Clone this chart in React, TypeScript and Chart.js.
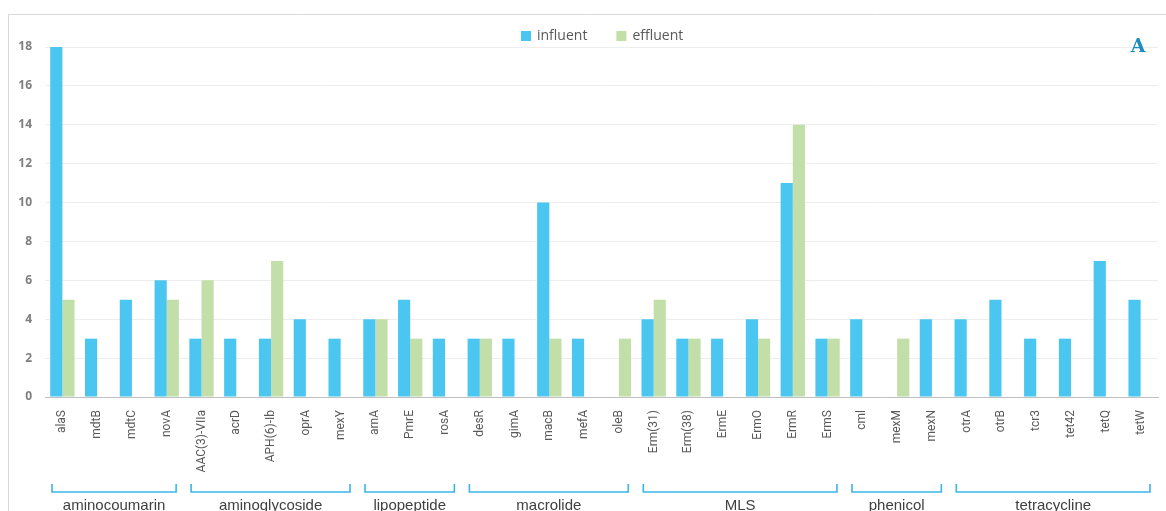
import React, { useEffect, useRef } from "react";
import { Chart, registerables } from "chart.js";

Chart.register(...registerables);

const genes = [
  "alaS", "mdtB", "mdtC", "novA",
  "AAC(3)-VIIa", "acrD", "APH(6)-Ib", "oprA", "mexY",
  "arnA", "PmrE", "rosA",
  "desR", "gimA", "macB", "mefA", "oleB",
  "Erm(31)", "Erm(38)", "ErmE", "ErmO", "ErmR", "ErmS",
  "cml", "mexM", "mexN",
  "otrA", "otrB", "tcr3", "tet42", "tetQ", "tetW",
];

const influent = [18, 3, 5, 6, 3, 3, 3, 4, 3, 4, 5, 3, 3, 3, 10, 3, 0, 4, 3, 3, 4, 11, 3, 4, 0, 4, 4, 5, 3, 3, 7, 5];
const effluent = [5, 0, 0, 5, 6, 0, 7, 0, 0, 4, 3, 0, 3, 0, 3, 0, 3, 5, 3, 0, 3, 14, 3, 0, 3, 0, 0, 0, 0, 0, 0, 0];

const groupNames = ["aminocoumarin", "aminoglycoside", "lipopeptide", "macrolide", "MLS", "phenicol", "tetracycline"];
const groupStart = [0, 4, 9, 12, 17, 23, 26];
const groupEnd = [3, 8, 11, 16, 22, 25, 31];

const yTicks = [0, 2, 4, 6, 8, 10, 12, 14, 16, 18];

const BLUE = "#4BC6F1";
const GREEN = "#C3DFA9";
const BRACKET = "#3DB5E6";

const decorPlugin = {
  id: "decor",
  afterDraw(chart: any) {
    const ctx = chart.ctx;
    const xs = chart.scales.x;
    ctx.save();
    // frame
    ctx.strokeStyle = "#d9d9d9";
    ctx.lineWidth = 1;
    ctx.beginPath();
    ctx.moveTo(8.5, 511);
    ctx.lineTo(8.5, 14.5);
    ctx.lineTo(1166, 14.5);
    ctx.stroke();

    // legend
    ctx.font = "14px 'Open Sans'";
    ctx.textBaseline = "middle";
    let x = 521;
    const ly = 36;
    chart.data.datasets.forEach((ds: any) => {
      ctx.fillStyle = ds.backgroundColor;
      ctx.fillRect(x, ly - 5, 10, 10);
      ctx.fillStyle = "#595959";
      ctx.textAlign = "left";
      ctx.fillText(ds.label, x + 16, ly);
      x += 16 + ctx.measureText(ds.label).width + 29;
    });

    // "A"
    ctx.font = "bold 19px 'DejaVu Serif'";
    ctx.fillStyle = "#1B8DBA";
    ctx.textAlign = "center";
    ctx.fillText("A", 1138, 47);

    // group brackets
    const half = (xs.getPixelForValue(1) - xs.getPixelForValue(0)) / 2;
    ctx.strokeStyle = BRACKET;
    ctx.lineWidth = 1.6;
    ctx.font = "15px 'Liberation Sans'";
    ctx.fillStyle = "#404040";
    groupNames.forEach((name, i) => {
      const x0 = xs.getPixelForValue(groupStart[i]) - half + 7;
      const x1 = xs.getPixelForValue(groupEnd[i]) + half - 8;
      ctx.beginPath();
      ctx.moveTo(x0, 484);
      ctx.lineTo(x0, 492);
      ctx.lineTo(x1, 492);
      ctx.lineTo(x1, 484);
      ctx.stroke();
      ctx.textAlign = "center";
      ctx.fillText(name, (x0 + x1) / 2, 506);
    });
    ctx.restore();
  },
};

export default function App() {
  const ref = useRef<HTMLCanvasElement | null>(null);
  useEffect(() => {
    if (!ref.current) return;
    const chart = new Chart(ref.current, {
      type: "bar",
      data: {
        labels: genes,
        datasets: [
          { label: "influent", data: influent, backgroundColor: BLUE, borderWidth: 0 },
          { label: "effluent", data: effluent, backgroundColor: GREEN, borderWidth: 0 },
        ],
      },
      options: {
        animation: false,
        responsive: false,
        devicePixelRatio: 1,
        layout: { padding: { left: 0, right: 8, top: 47, bottom: 0 } },
        datasets: { bar: { categoryPercentage: 0.7, barPercentage: 1.0 } },
        plugins: { legend: { display: false }, tooltip: { enabled: false } },
        scales: {
          x: {
            grid: { display: false },
            border: { display: true, color: "#bfbfbf", width: 1 },
            ticks: {
              autoSkip: false,
              maxRotation: 90,
              minRotation: 90,
              padding: 5,
              color: "#595959",
              font: { family: "Roboto", size: 12 },
            },
            afterFit(scale: any) {
              scale.height = 114;
            },
          },
          y: {
            min: 0,
            max: 18,
            afterBuildTicks(scale: any) {
              scale.ticks = yTicks.map((v) => ({ value: v }));
            },
            grid: { color: "#ededed", drawTicks: false },
            border: { display: false },
            ticks: {
              padding: 13,
              color: "#7f7f7f",
              font: { family: "Open Sans", size: 12, weight: "bold" },
            },
            afterFit(scale: any) {
              scale.width = 45;
            },
          },
        },
      },
      plugins: [decorPlugin],
    } as any);
    return () => chart.destroy();
  }, []);
  return (
    <div style={{ position: "absolute", left: 0, top: 0, width: 1166, height: 511, background: "#fff" }}>
      <canvas ref={ref} width={1166} height={511} style={{ display: "block" }} />
    </div>
  );
}
